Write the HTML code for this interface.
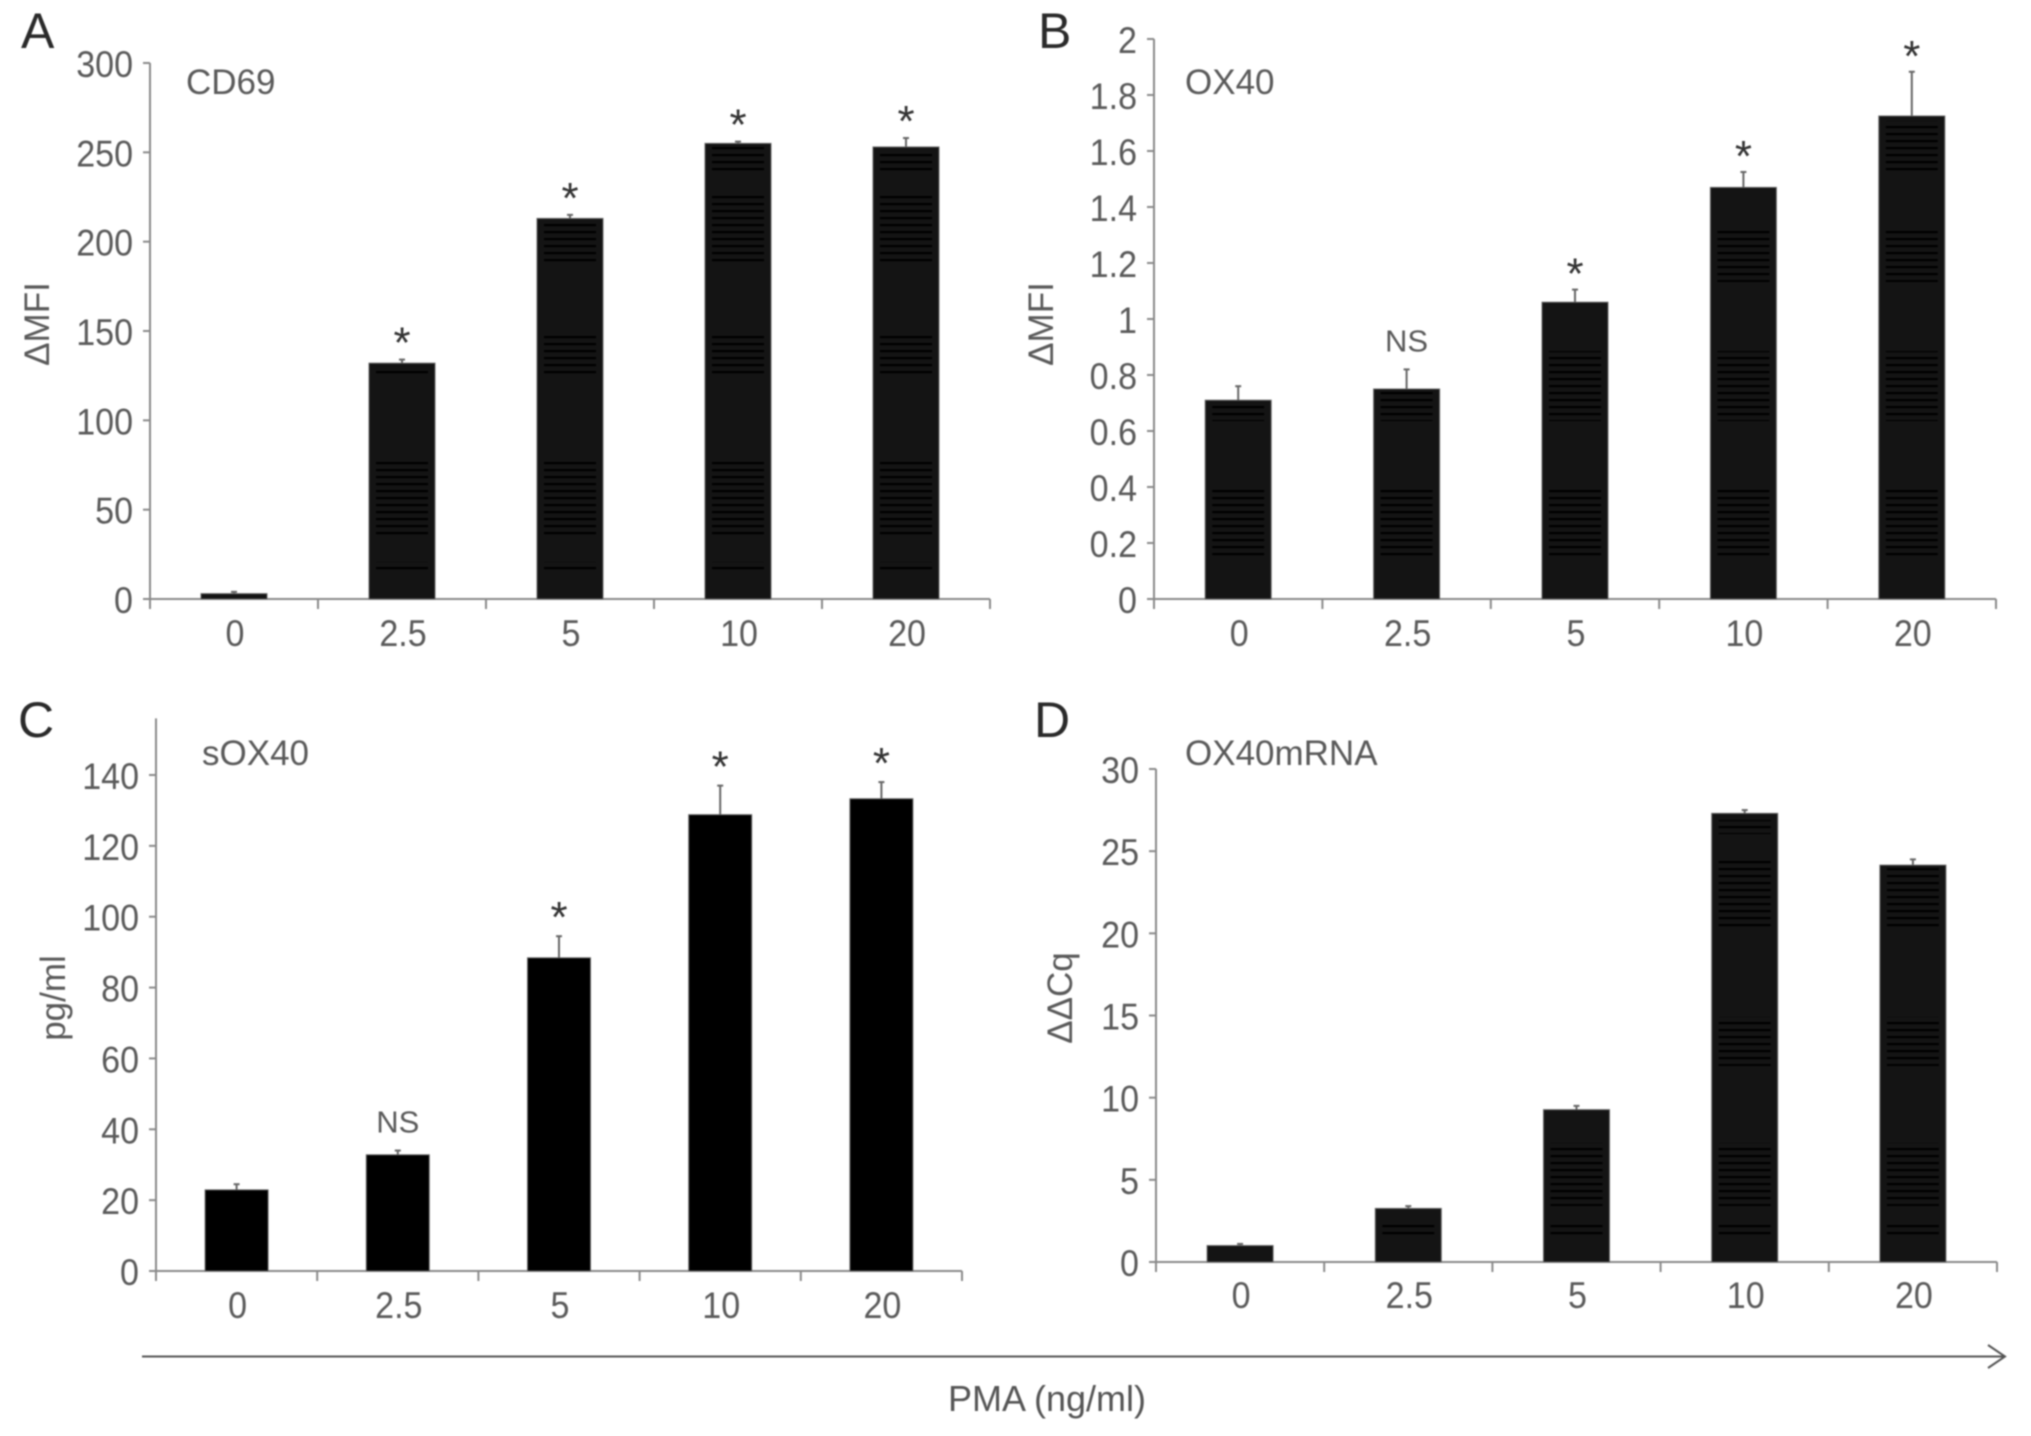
<!DOCTYPE html>
<html lang="en">
<head>
<meta charset="utf-8">
<title>PMA dose response panels</title>
<style>
html,body{margin:0;padding:0;background:#fff;}
#figure{display:block;width:2031px;height:1436px;font-family:"Liberation Sans",sans-serif;filter:blur(0.7px);}
text{font-family:"Liberation Sans",sans-serif;}
</style>
</head>
<body>
<svg id="figure" xmlns="http://www.w3.org/2000/svg" width="2031" height="1436" viewBox="0 0 2031 1436">
  <defs>
    <pattern id="bar-stripes" patternUnits="userSpaceOnUse" width="10" height="7">
      <rect x="0" y="0" width="10" height="2.2" fill="#000000"/>
    </pattern>
  </defs>
  <rect x="0" y="0" width="2031" height="1436" fill="#ffffff"/>
  <text x="21" y="48" font-size="50" fill="#2a2a2a">A</text>
  <text x="1038" y="48" font-size="50" fill="#2a2a2a">B</text>
  <text x="18" y="737" font-size="50" fill="#2a2a2a">C</text>
  <text x="1034" y="737" font-size="50" fill="#2a2a2a">D</text>
  <g id="panels"></g>
  <line x1="142" y1="1356.5" x2="2004" y2="1356.5" stroke="#555" stroke-width="2"/>
  <polyline points="1988,1345 2005,1356.5 1988,1368" fill="none" stroke="#555" stroke-width="2"/>
  <text x="1052" y="1418" font-size="36" text-anchor="middle" fill="#555" transform="translate(-5 -7)">PMA (ng/ml)</text>
</svg>
<script>
var categories = ['0', '2.5', '5', '10', '20'];

var cd69Values = [3, 132, 213, 255, 253];
var cd69ErrorTops = [4, 134, 215, 256, 258];
var cd69Marks = ['', '*', '*', '*', '*'];
var cd69Ticks = ['0', '50', '100', '150', '200', '250', '300'];

var ox40Values = [0.71, 0.75, 1.06, 1.47, 1.725];
var ox40ErrorTops = [0.76, 0.82, 1.105, 1.525, 1.883];
var ox40Marks = ['', 'NS', '*', '*', '*'];
var ox40Ticks = ['0', '0.2', '0.4', '0.6', '0.8', '1', '1.2', '1.4', '1.6', '1.8', '2'];

var sox40Values = [22.9, 32.8, 88.4, 128.8, 133.3];
var sox40ErrorTops = [24.5, 34, 94.5, 137, 138];
var sox40Marks = ['', 'NS', '*', '*', '*'];
var sox40Ticks = ['0', '20', '40', '60', '80', '100', '120', '140'];

var mrnaValues = [1, 3.26, 9.27, 27.3, 24.15];
var mrnaErrorTops = [1.1, 3.4, 9.5, 27.5, 24.5];
var mrnaMarks = ['', '', '', '', ''];
var mrnaTicks = ['0', '5', '10', '15', '20', '25', '30'];

var panels = [
  {key:'cd69', title:'CD69', yTitle:'\u0394MFI', values:cd69Values, errs:cd69ErrorTops, marks:cd69Marks, ticks:cd69Ticks,
   left:150, right:990, y0:599, yRefPx:63, yRefVal:300, axisTopVal:300, barW:66, fill:'#141414',
   titleX:186, titleY:94, yTitleX:49, yTitleY:324, xLabelY:646, starDy:-1,
   artifacts:[[143,173],[195,265],[334,377],[460,538],[562,572]]},
  {key:'ox40', title:'OX40', yTitle:'\u0394MFI', values:ox40Values, errs:ox40ErrorTops, marks:ox40Marks, ticks:ox40Ticks,
   left:1154, right:1996, y0:599, yRefPx:39, yRefVal:2, axisTopVal:2, barW:66, fill:'#141414',
   titleX:1185, titleY:94, yTitleX:1053, yTitleY:324, xLabelY:646, starDy:0,
   artifacts:[[121,173],[230,282],[351,421],[490,559]]},
  {key:'sox40', title:'sOX40', yTitle:'pg/ml', values:sox40Values, errs:sox40ErrorTops, marks:sox40Marks, ticks:sox40Ticks,
   left:156, right:962, y0:1271, yRefPx:775, yRefVal:140, axisTopVal:156, barW:63, fill:'#000000',
   titleX:202, titleY:765, yTitleX:65, yTitleY:998, xLabelY:1318, starDy:-3,
   artifacts:[]},
  {key:'mrna', title:'OX40mRNA', yTitle:'\u0394\u0394Cq', values:mrnaValues, errs:mrnaErrorTops, marks:mrnaMarks, ticks:mrnaTicks,
   left:1156, right:1997, y0:1262, yRefPx:769, yRefVal:30, axisTopVal:30, barW:66, fill:'#141414',
   titleX:1185, titleY:765, yTitleX:1072, yTitleY:998, xLabelY:1308, starDy:0,
   artifacts:[[820,834],[858,931],[1017,1066],[1143,1206],[1225,1237]]}
];

var NS = 'http://www.w3.org/2000/svg';
var root = document.getElementById('panels');

function make(tag, parent, attrs, content) {
  var el = document.createElementNS(NS, tag);
  for (var k in attrs) { el.setAttribute(k, attrs[k]); }
  if (content !== undefined) { el.textContent = content; }
  parent.appendChild(el);
  return el;
}

function narrow(x, y, sx) {
  return 'translate(' + x + ' ' + y + ') scale(' + sx + ' 1)';
}

panels.forEach(function (p) {
  var yScale = function (v) { return p.y0 - (v / p.yRefVal) * (p.y0 - p.yRefPx); };
  var band = (p.right - p.left) / categories.length;
  var xScale = function (i) { return p.left + band * (i + 0.5); };
  var axisColor = '#8a8a8a';
  var textColor = '#5a5a5a';

  var g = make('g', root, {});
  
  

  var title = make('text', g, {x: p.titleX, y: p.titleY, 'font-size': 35, fill: textColor}, p.title);
  
  

  var yTitle = make('text', g, {x: p.yTitleX, y: p.yTitleY, 'font-size': 35, fill: textColor, 'text-anchor': 'middle',
    transform: 'rotate(-90 ' + p.yTitleX + ' ' + p.yTitleY + ')'}, p.yTitle);
  
  

  var yAxis = make('line', g, {x1: p.left, x2: p.left, y1: yScale(p.axisTopVal), y2: p.y0 + 10, stroke: axisColor, 'stroke-width': 2});
  
  

  var xAxis = make('line', g, {x1: p.left - 6, x2: p.right, y1: p.y0, y2: p.y0, stroke: axisColor, 'stroke-width': 2});
  
  

  p.ticks.forEach(function (label) {
    var y = yScale(parseFloat(label));
    var tick = make('line', g, {x1: p.left - 7, x2: p.left, y1: y, y2: y, stroke: axisColor, 'stroke-width': 2});
    
    
    var text = make('text', g, {x: 0, y: 0, 'font-size': 37, fill: textColor, 'text-anchor': 'end',
      transform: narrow(p.left - 17, y + 14, 0.92)}, label);
    
    
  });

  for (var t = 0; t <= categories.length; t++) {
    var tx = p.left + band * t;
    var xTick = make('line', g, {x1: tx, x2: tx, y1: p.y0, y2: p.y0 + 10, stroke: axisColor, 'stroke-width': 2});
    
    
  }

  categories.forEach(function (cat, i) {
    var cx = xScale(i);
    var top = yScale(p.values[i]);
    var errTop = yScale(p.errs[i]);

    var errLine = make('line', g, {x1: cx, x2: cx, y1: errTop, y2: top, stroke: '#666', 'stroke-width': 2});
    
    
    var errCap = make('line', g, {x1: cx - 3, x2: cx + 3, y1: errTop, y2: errTop, stroke: '#666', 'stroke-width': 2});
    
    

    var bar = make('rect', g, {x: cx - p.barW / 2, y: top, width: p.barW, height: p.y0 - top, fill: p.fill, stroke: '#666', 'stroke-width': 1});
    
    

    p.artifacts.forEach(function (range) {
      var from = Math.max(range[0], top + 3);
      var to = Math.min(range[1], p.y0);
      if (to > from) {
        var stripes = make('rect', g, {x: cx - p.barW / 2 + 7, y: from, width: p.barW - 14, height: to - from, fill: 'url(#bar-stripes)'});
        
        
      }
    });

    var label = make('text', g, {x: 0, y: 0, 'font-size': 37, fill: textColor, 'text-anchor': 'middle',
      transform: narrow(cx + 1, p.xLabelY, 0.92)}, cat);
    
    

    var mark = p.marks[i];
    if (mark === '*') {
      var star = make('text', g, {x: cx, y: errTop - 1 + p.starDy, 'font-size': 44, fill: '#333', 'text-anchor': 'middle'}, mark);
      
      
    } else if (mark) {
      var ns = make('text', g, {x: cx, y: errTop - 18, 'font-size': 31, fill: textColor, 'text-anchor': 'middle'}, mark);
      
      
    }
  });
});
</script>
</body>
</html>
